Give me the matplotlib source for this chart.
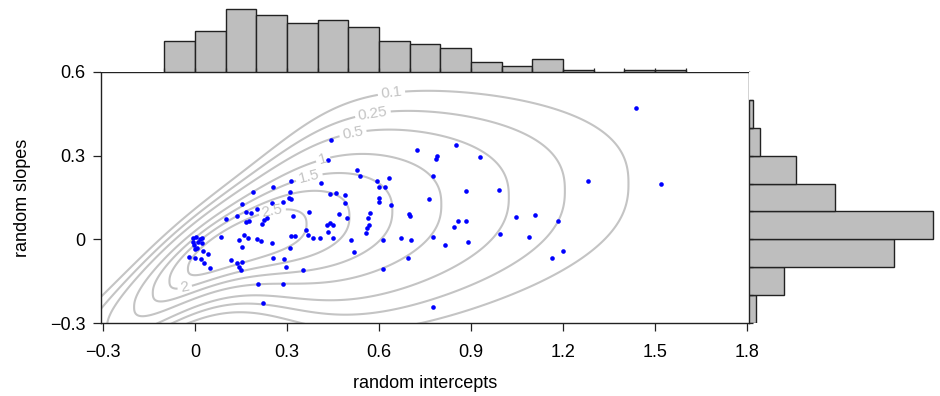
import numpy as np
import matplotlib
matplotlib.use('Agg')
import matplotlib.pyplot as plt

plt.rcParams['font.family'] = ['Liberation Sans', 'DejaVu Sans']

# scatter of predicted random effects
intercepts = [
    1.438, 1.520, 1.283, 0.850, 0.790, 0.786, 0.930, 0.775, 0.883, 0.990,
    0.763, 1.047, 1.110, 1.184, 0.858, 0.884, 0.843, 0.995, 0.777, 1.089,
    0.814, 0.891, 1.199, 1.164, 0.775, 0.723, 0.699, 0.701, 0.694, 0.704,
    0.442, 0.435, 0.312, 0.411, 0.527, 0.538, 0.594, 0.632, 0.599, 0.621,
    0.308, 0.305, 0.312, 0.286, 0.440, 0.459, 0.490, 0.490, 0.599, 0.599,
    0.638, 0.318, 0.373, 0.471, 0.497, 0.571, 0.565, 0.568, 0.562, 0.558,
    0.440, 0.451, 0.429, 0.362, 0.369, 0.384, 0.408, 0.435, 0.449, 0.312,
    0.325, 0.509, 0.614, 0.671, 0.308, 0.519, 0.291, 0.297, 0.353, 0.614,
    0.288, 0.255, 0.255, 0.188, 0.250, 0.152, 0.166, 0.182, 0.203, 0.138,
    0.101, 0.234, 0.226, 0.166, 0.177, 0.217, 0.084, 0.158, 0.174, 0.144,
    0.201, 0.215, 0.152, 0.251, 0.117, 0.138, 0.152, 0.144, 0.149, 0.206,
    0.223,
    -0.006, 0.003, 0.016, 0.022, -0.006, 0.008, 0.022, -0.005, 0.006, 0.000,
    0.025, 0.043, -0.019, 0.000, 0.019, 0.029, 0.049,
]
slopes = [
    0.472, 0.200, 0.208, 0.340, 0.300, 0.289, 0.296, 0.228, 0.172, 0.178,
    0.146, 0.081, 0.086, 0.065, 0.065, 0.065, 0.044, 0.019, 0.010, 0.007,
    -0.019, -0.010, -0.041, -0.067, -0.244, 0.320, 0.090, 0.085, -0.066, -0.004,
    0.356, 0.284, 0.209, 0.203, 0.248, 0.228, 0.210, 0.221, 0.189, 0.189,
    0.171, 0.147, 0.145, 0.133, 0.164, 0.165, 0.159, 0.129, 0.149, 0.135,
    0.123, 0.082, 0.097, 0.090, 0.075, 0.093, 0.078, 0.051, 0.039, 0.024,
    0.057, 0.051, 0.051, 0.033, 0.015, 0.006, 0.004, 0.025, 0.006, 0.013,
    0.011, -0.002, -0.002, 0.006, -0.030, -0.047, -0.072, -0.098, -0.109, -0.106,
    -0.161, -0.068, 0.189, 0.168, 0.132, 0.127, 0.099, 0.093, 0.109, 0.085,
    0.073, 0.075, 0.069, 0.063, 0.066, 0.055, 0.010, 0.015, 0.006, -0.002,
    0.000, -0.006, -0.029, -0.014, -0.074, -0.084, -0.080, -0.098, -0.110, -0.161,
    -0.230,
    0.004, 0.008, 0.002, 0.004, -0.008, -0.008, -0.014, -0.020, -0.030, -0.036,
    -0.041, -0.053, -0.062, -0.068, -0.072, -0.084, -0.104,
]

# marginal histograms (percent of points per bin)
x_breaks = [-0.1, 0.0, 0.1, 0.2, 0.3, 0.4, 0.5, 0.6, 0.7, 0.8, 0.9,
            1.0, 1.1, 1.2, 1.3, 1.4, 1.5, 1.6]
top_pct = [6.7, 8.9, 13.6, 12.2, 10.5, 11.2, 9.8, 6.7, 6.0, 5.1,
           2.1, 1.4, 2.8, 0.5, 0.0, 0.5, 0.5]
y_breaks = [-0.3, -0.2, -0.1, 0.0, 0.1, 0.2, 0.3, 0.4, 0.5]
right_pct = [1.4, 6.7, 27.9, 35.4, 16.5, 9.0, 2.2, 0.8]

# density contours
levels = [0.1, 0.25, 0.5, 1, 1.5, 2, 2.5]
level_text = ['0.1', '0.25', '0.5', '1', '1.5', '2', '2.5']
label_spots = [(0.64, 0.53), (0.58, 0.45), (0.515, 0.38), (0.415, 0.297),
               (0.37, 0.232), (-0.033, -0.176), (0.25, 0.11)]

x_ticks = [-0.3, 0, 0.3, 0.6, 0.9, 1.2, 1.5, 1.8]
x_ticklabels = ['\u22120.3', '0', '0.3', '0.6', '0.9', '1.2', '1.5', '1.8']
y_ticks = [-0.3, 0, 0.3, 0.6]
y_ticklabels = ['\u22120.3', '0', '0.3', '0.6']


def density(a, b):
    """ Skewed bivariate density of intercepts (a) and slopes (b). """
    ridge = 1.22 - 1.6 * (a + 0.07) ** 2 - 0.65 * np.logaddexp(0, -(a + 0.066) / 0.08)
    centre = -0.22 + 0.12 * a + 0.25 * np.tanh((a + 0.2) / 0.35)
    spread = 1.076 * (0.068 + 0.12 / (1 + np.exp(-(a - 0.3) / 0.13)))
    return np.exp(ridge - np.abs((b - centre) / spread) ** 2.4 / 2.4)


XLIM = (-0.307, 1.807)
YLIM = (-0.3, 0.6)
GRAY = '#c4c4c4'
BAR = '#bebebe'

fig = plt.figure(figsize=(9.4, 3.96), dpi=100)
ax = fig.add_axes([101 / 940, 73 / 396, 648 / 940, 251 / 396])
ax_top = fig.add_axes([101 / 940, 324 / 396, 648 / 940, 72 / 396])
ax_right = fig.add_axes([749 / 940, 73 / 396, 190 / 940, 251 / 396])

gx, gy = np.meshgrid(np.linspace(-0.32, 1.82, 700), np.linspace(-0.31, 0.61, 400))
cs = ax.contour(gx, gy, density(gx, gy), levels=levels, colors=GRAY, linewidths=1.5)
ax.clabel(cs, levels, manual=label_spots, inline=True, inline_spacing=3,
          fontsize=11, colors=GRAY, fmt=dict(zip(levels, level_text)))

ax.scatter(intercepts, slopes, s=11, color='#0000ff', linewidths=0, zorder=3)

ax.set_xlim(XLIM)
ax.set_ylim(YLIM)
ax.set_xticks(x_ticks)
ax.set_xticklabels(x_ticklabels)
ax.set_yticks(y_ticks)
ax.set_yticklabels(y_ticklabels)
ax.tick_params(length=6, width=0.9, pad=9, labelsize=13, color='#222222')
ax.tick_params(axis='y', pad=5)
for sp in ax.spines.values():
    sp.set_linewidth(1.0)
    sp.set_color('#222222')
ax.set_xlabel('random intercepts', fontsize=13, labelpad=10)
ax.set_ylabel('random slopes', fontsize=13, labelpad=14)

# top marginal
ax_top.bar(x_breaks[:-1], top_pct, width=np.diff(x_breaks), align='edge',
           color=BAR, edgecolor='#222222', linewidth=1.0)
ax_top.set_xlim(XLIM)
ax_top.set_ylim(0, max(top_pct) * 72 / 63)
ax_top.set_xticks(x_breaks)
ax_top.set_yticks([])
ax_top.tick_params(axis='x', direction='in', length=3, width=0.9, labelbottom=False,
                   color='#222222')
for sp in ax_top.spines.values():
    sp.set_visible(False)

# right marginal
ax_right.barh(y_breaks[:-1], right_pct, height=np.diff(y_breaks), align='edge',
              color=BAR, edgecolor='#222222', linewidth=1.0)
ax_right.set_ylim(YLIM)
ax_right.set_xlim(0, max(right_pct) * 190 / 184)
ax_right.set_yticks(y_breaks)
ax_right.set_xticks([])
ax_right.tick_params(axis='y', direction='in', length=3, width=0.9, labelleft=False,
                     color='#222222')
for sp in ax_right.spines.values():
    sp.set_visible(False)

fig.savefig('out.png', dpi=100)
